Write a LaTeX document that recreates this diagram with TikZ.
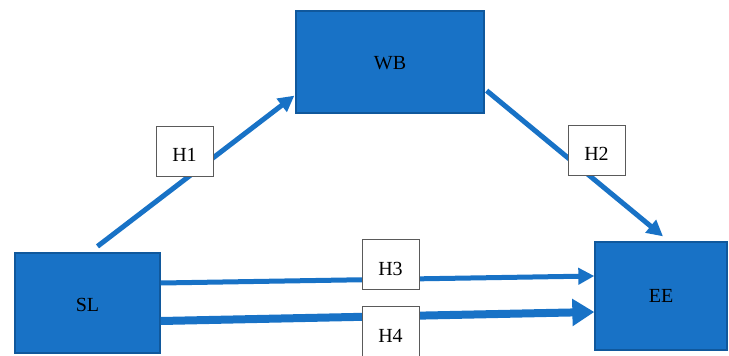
\documentclass[tikz,border=0pt]{standalone}
\usepackage{fontspec}
\setmainfont{Liberation Serif}
\usetikzlibrary{arrows.meta,calc}
\definecolor{boxblue}{RGB}{24,114,198}
\definecolor{boxedge}{RGB}{16,88,156}
\definecolor{arrblue}{RGB}{24,114,198}
\definecolor{lbledge}{RGB}{90,90,90}
\tikzset{
  bluebox/.style={draw=boxedge, line width=1.3pt, fill=boxblue, inner sep=0pt, font=\fontsize{20}{24}\selectfont, text=black, text depth=0pt},
  hlabel/.style={draw=lbledge, line width=0.9pt, fill=white, minimum width=57pt, minimum height=50pt, inner sep=0pt, font=\fontsize{20}{24}\selectfont, text height=21.4pt, text depth=0pt},
  arr/.style={draw=arrblue, line width=5pt, -{Triangle[length=16pt,width=16pt]}},
  arrthick/.style={draw=arrblue, line width=8pt, -{Triangle[length=22pt,width=26pt]}}
}
\begin{document}
\begin{tikzpicture}[x=1pt,y=-1pt]
\useasboundingbox (0,0) rectangle (729,356);
\node[bluebox, text height=17.4pt, minimum width=145pt, minimum height=100pt] (SL) at (87.5,303) {SL};
\node[bluebox, text height=15.4pt, minimum width=188pt, minimum height=102pt] (WB) at (390,62) {WB};
\node[bluebox, text height=13.4pt, minimum width=132pt, minimum height=108pt] (EE) at (661,296) {EE};
\draw[arr] ([xshift=10pt,yshift=6pt]SL.north) -- ([xshift=-1pt,yshift=18pt]WB.south west);
\draw[arr] ([xshift=2pt,yshift=23pt]WB.south east) -- ([xshift=2pt,yshift=5pt]EE.north);
\draw[arr] ([yshift=20pt]SL.east) -- ([yshift=20pt]EE.west);
\draw[arrthick] ([yshift=-18pt]SL.east) -- ([yshift=-16pt]EE.west);
\node[hlabel] (H1) at (184.5,151) {H1};
\node[hlabel] (H2) at (596.5,150) {H2};
\node[hlabel] (H3) at (390.5,264.5) {H3};
\node[hlabel] (H4) at (390.5,331.5) {H4};
\end{tikzpicture}
\end{document}
